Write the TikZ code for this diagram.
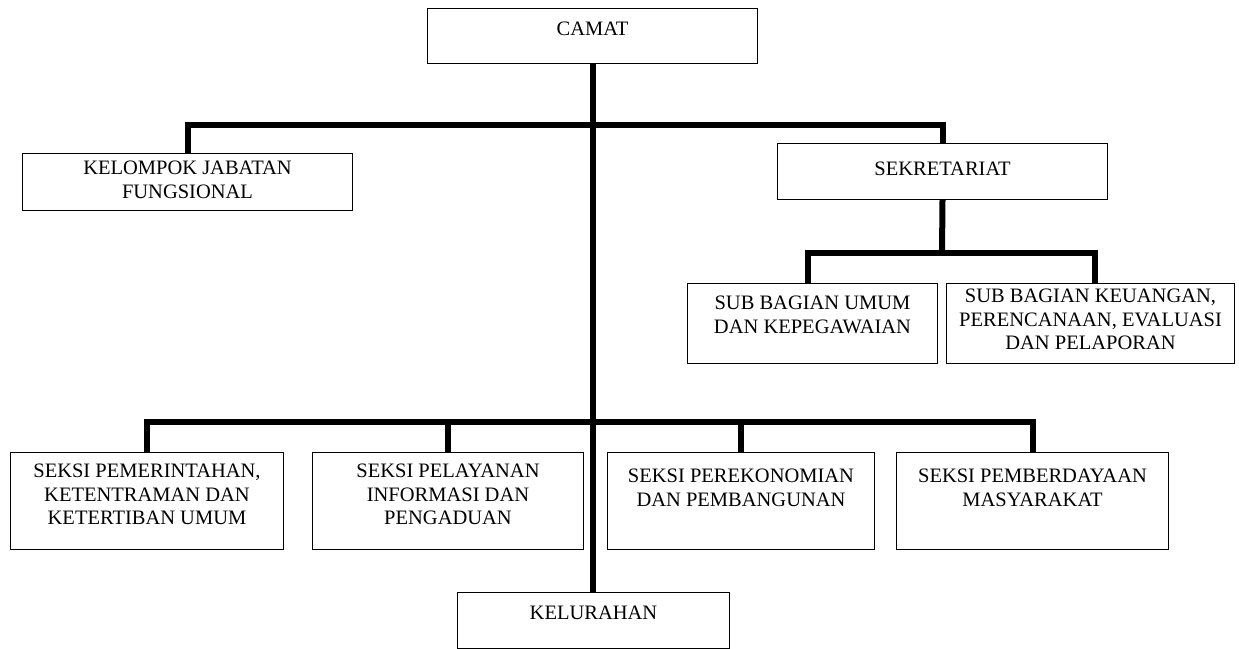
\documentclass[tikz,border=0pt]{standalone}
\usepackage{fontspec}
\setmainfont{Liberation Serif}
\usetikzlibrary{positioning}

\begin{document}
\begin{tikzpicture}[x=1pt, y=-1pt,
    box/.style 2 args={draw, line width=1pt, anchor=north west, minimum width=#1, minimum height=#2, inner sep=0pt},
    caption/.style={align=center, inner sep=0pt, font=\fontsize{20.5}{23.3}\selectfont},
    link/.style={line width=6pt}]
    \useasboundingbox (0,0) rectangle (1239,648);

    \node [box={330pt}{55pt}] (camat) at (427,8) {};
    \node [caption, below=14pt of camat.north] (camat-t) {CAMAT};

    \node [box={330pt}{57pt}] (kelompok) at (22,153) {};
    \node [caption, below=8pt of kelompok.north] (kelompok-t) {KELOMPOK JABATAN\\FUNGSIONAL};

    \node [box={330pt}{56pt}] (sekre) at (777,143) {};
    \node [caption, below=19pt of sekre.north] (sekre-t) {SEKRETARIAT};

    \node [box={250pt}{80pt}] (subumum) at (687,283) {};
    \node [caption, below=13pt of subumum.north] (subumum-t) {SUB BAGIAN UMUM\\DAN KEPEGAWAIAN};
    \node [box={288pt}{80pt}] (subkeu) at (946,283) {};
    \node [caption, below=6pt of subkeu.north] (subkeu-t) {SUB BAGIAN KEUANGAN,\\PERENCANAAN, EVALUASI\\DAN PELAPORAN};

    \node [box={273pt}{97pt}] (seksi1) at (10,452) {};
    \node [caption, below=12pt of seksi1.north] (seksi1-t) {SEKSI PEMERINTAHAN,\\KETENTRAMAN DAN\\KETERTIBAN UMUM};
    \node [box={271pt}{97pt}] (seksi2) at (312,452) {};
    \node [caption, below=12pt of seksi2.north] (seksi2-t) {SEKSI PELAYANAN\\INFORMASI DAN\\PENGADUAN};
    \node [box={267pt}{97pt}] (seksi3) at (607,452) {};
    \node [caption, below=17pt of seksi3.north] (seksi3-t) {SEKSI PEREKONOMIAN\\DAN PEMBANGUNAN};
    \node [box={272pt}{97pt}] (seksi4) at (896,452) {};
    \node [caption, below=17pt of seksi4.north] (seksi4-t) {SEKSI PEMBERDAYAAN\\MASYARAKAT};

    \node [box={272pt}{56pt}] (kelurahan) at (457,592) {};
    \node [caption, below=14pt of kelurahan.north] (kelurahan-t) {KELURAHAN};

    % branch points on the trunk
    \coordinate (hub1) at (592,125);
    \coordinate (hub2) at (942,253);
    \coordinate (hub3) at (592,422);

    \draw[link] (camat.south) -- (camat.south |- kelurahan.north);
    \draw[link] (kelompok.north) |- (hub1) -| (sekre.north);
    \draw[link] (sekre.south) -- (hub2);
    \draw[link] ([xshift=-5pt]subumum.north) |- (hub2) -| ([xshift=4pt]subkeu.north);
    \draw[link] (seksi1.north) |- (hub3) -| (seksi4.north);
    \draw[link] (seksi2.north) -- (seksi2.north |- hub3);
    \draw[link] (seksi3.north) -- (seksi3.north |- hub3);

\end{tikzpicture}
\end{document}
